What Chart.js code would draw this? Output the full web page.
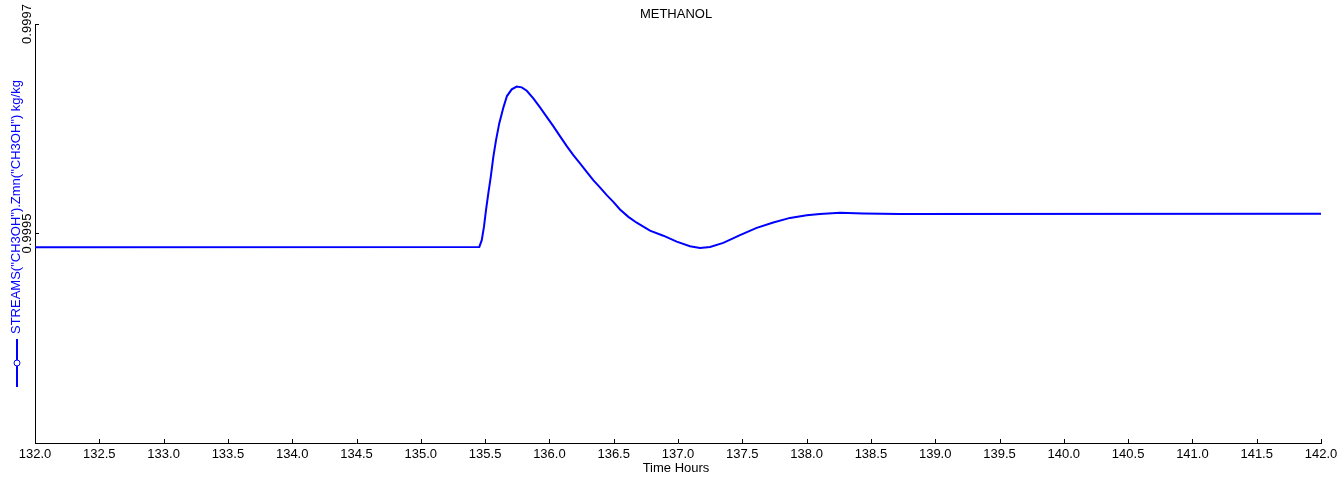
<!DOCTYPE html>
<html>
<head>
<meta charset="utf-8">
<script src="https://cdn.jsdelivr.net/npm/chart.js@4/dist/chart.umd.min.js"></script>
<style>
  html, body { margin: 0; padding: 0; background: #fff; }
  #wrap { width: 1343px; height: 482px; position: relative; }
</style>
</head>
<body>
<div id="wrap"><canvas id="chart"></canvas></div>
<script>
// ── Data ─────────────────────────────────────────────────────────────
const TITLE = 'METHANOL';
const X_TITLE = 'Time Hours';
const Y_TITLE = 'STREAMS("CH3OH").Zmn("CH3OH") kg/kg';

const X_MIN = 132.0, X_MAX = 142.0, X_STEP = 0.5;
const Y_MIN = 0.9993, Y_MAX = 0.9997;
const Y_TICKS = [0.9995, 0.9997];

const hours = [
  132.000, 135.455, 135.474, 135.491, 135.507, 135.525, 135.544, 135.564,
  135.585, 135.610, 135.642, 135.670, 135.707, 135.746, 135.785, 135.824,
  135.875, 135.927, 135.979, 136.030, 136.082, 136.135, 136.186, 136.238,
  136.290, 136.341, 136.393, 136.446, 136.497, 136.549, 136.614, 136.679,
  136.782, 136.886, 136.990, 137.093, 137.171, 137.249, 137.352, 137.482,
  137.612, 137.741, 137.871, 138.001, 138.104, 138.260, 138.441, 138.726,
  142.000,
];
const methanol = [
  0.9994869, 0.9994872, 0.9994936, 0.9995063, 0.9995223, 0.9995382, 0.9995541, 0.9995732,
  0.9995892, 0.9996051, 0.9996202, 0.9996312, 0.9996376, 0.9996403, 0.9996395, 0.9996363,
  0.9996290, 0.9996204, 0.9996114, 0.9996025, 0.9995930, 0.9995834, 0.9995748, 0.9995669,
  0.9995589, 0.9995509, 0.9995440, 0.9995366, 0.9995302, 0.9995229, 0.9995159, 0.9995103,
  0.9995027, 0.9994979, 0.9994922, 0.9994879, 0.9994862, 0.9994872, 0.9994910, 0.9994984,
  0.9995054, 0.9995105, 0.9995149, 0.9995175, 0.9995187, 0.9995197, 0.9995191, 0.9995187,
  0.9995189,
];

const BLUE = '#0000ff';
const INK = '#000000';
const FONT = '"Liberation Sans", Arial, sans-serif';

// Inward tick marks, rotated y labels, titles and the little legend glyph.
const framePlugin = {
  id: 'frame',
  afterDraw(chart) {
    const { ctx, chartArea: a, scales: { x, y } } = chart;
    ctx.save();
    ctx.strokeStyle = INK;
    ctx.lineWidth = 1;
    ctx.beginPath();
    for (const t of x.ticks) {
      const px = Math.round(x.getPixelForValue(t.value)) + 0.5;
      ctx.moveTo(px, a.bottom);
      ctx.lineTo(px, a.bottom - 4);
    }
    for (const v of Y_TICKS) {
      const py = Math.round(y.getPixelForValue(v)) + 0.5;
      ctx.moveTo(a.left, py);
      ctx.lineTo(a.left + 4, py);
    }
    ctx.stroke();

    // y tick labels, reading bottom to top
    ctx.fillStyle = INK;
    ctx.font = '13px ' + FONT;
    ctx.textAlign = 'center';
    ctx.textBaseline = 'bottom';
    for (const v of Y_TICKS) {
      ctx.save();
      ctx.translate(a.left - 1, y.getPixelForValue(v));
      ctx.rotate(-Math.PI / 2);
      ctx.fillText(v.toFixed(4), 0, 0);
      ctx.restore();
    }

    // chart title + x title
    ctx.textBaseline = 'middle';
    ctx.fillText(TITLE, (a.left + a.right) / 2 - 2, 14);
    ctx.fillText(X_TITLE, (a.left + a.right) / 2 - 2, 468);

    // y title in series colour
    ctx.fillStyle = BLUE;
    ctx.save();
    ctx.translate(16, 334);
    ctx.rotate(-Math.PI / 2);
    ctx.textAlign = 'left';
    ctx.fillText(Y_TITLE, 0, 0);
    ctx.restore();

    // legend glyph: line with hollow marker
    ctx.strokeStyle = BLUE;
    ctx.lineWidth = 2;
    ctx.beginPath();
    ctx.moveTo(17, 339);
    ctx.lineTo(17, 387);
    ctx.stroke();
    ctx.beginPath();
    ctx.lineWidth = 1;
    ctx.fillStyle = '#fff';
    ctx.arc(17, 363, 3, 0, Math.PI * 2);
    ctx.fill();
    ctx.stroke();
    ctx.restore();
  },
};

new Chart(document.getElementById('chart'), {
  type: 'line',
  data: {
    datasets: [{
      label: Y_TITLE,
      data: hours.map((h, i) => ({ x: h, y: methanol[i] })),
      borderColor: BLUE,
      borderWidth: 2,
      pointRadius: 0,
      tension: 0,
      fill: false,
    }],
  },
  options: {
    responsive: true,
    maintainAspectRatio: false,
    animation: false,
    layout: { padding: { top: 24, right: 22, left: 0, bottom: 0 } },
    plugins: { legend: { display: false }, title: { display: false }, tooltip: { enabled: false } },
    scales: {
      x: {
        type: 'linear', min: X_MIN, max: X_MAX,
        grid: { display: false, drawTicks: false },
        border: { display: true, color: INK, width: 1 },
        ticks: {
          stepSize: X_STEP, autoSkip: false, maxRotation: 0, padding: 4,
          color: INK, font: { family: FONT, size: 13 },
          callback: (v) => Number(v).toFixed(1),
        },
        afterFit: (s) => { s.height = 39; },
      },
      y: {
        type: 'linear', min: Y_MIN, max: Y_MAX,
        grid: { display: false, drawTicks: false },
        border: { display: true, color: INK, width: 1 },
        ticks: { display: false },
        afterBuildTicks: (s) => { s.ticks = Y_TICKS.map(v => ({ value: v })); },
        afterFit: (s) => { s.width = 35; },
      },
    },
  },
  plugins: [framePlugin],
});
</script>
</body>
</html>
